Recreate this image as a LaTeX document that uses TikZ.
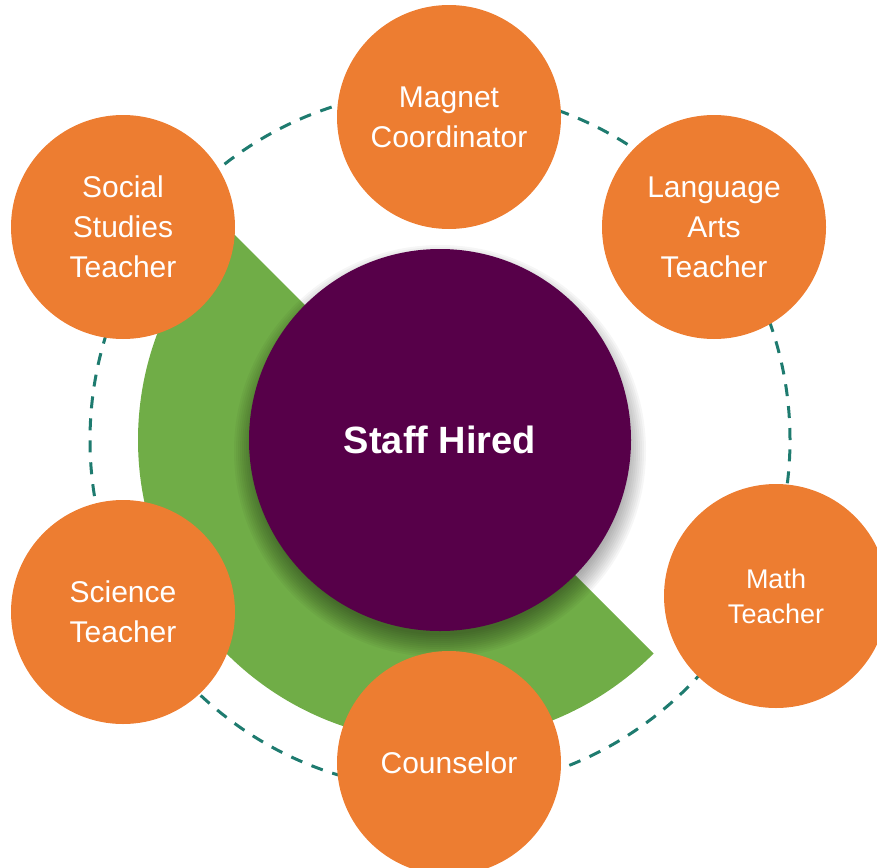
\documentclass[tikz,border=0pt]{standalone}
\usepackage{fontspec}
\setmainfont{Liberation Sans}
\definecolor{ringteal}{HTML}{1E7B6F}
\definecolor{bubbleorange}{HTML}{ED7D31}
\definecolor{hubpurple}{HTML}{570049}
\definecolor{sectorgreen}{HTML}{70AD47}

\begin{document}
\begin{tikzpicture}[x=0.5pt,y=0.5pt,
	bubble/.style={circle,fill=bubbleorange,text=white,minimum size=112pt,inner sep=0pt,align=center,font=\fontsize{15}{20}\selectfont},
	hubdisc/.style={circle,fill=hubpurple,text=white,minimum size=191pt,inner sep=0pt,font=\bfseries\fontsize{19}{22}\selectfont},
	ring/.style={draw=ringteal,line width=1.5pt,dash pattern=on 6pt off 5pt}]
	\useasboundingbox (0,0) rectangle (877,-867);
	
	\coordinate (C)   at (440,-440);
	\coordinate (Cs)  at (440,-451);
	\coordinate (Mag) at (449,-117);
	\coordinate (Soc) at (123,-227);
	\coordinate (Lan) at (714,-227);
	\coordinate (Sci) at (123,-612);
	\coordinate (Cou) at (449,-763);
	\coordinate (Mat) at (776,-596);
	
	\draw[ring] (C) circle[radius=175pt];
	\fill[sectorgreen] (C) -- ++(135:151pt) arc[start angle=135,end angle=315,radius=151pt] -- cycle;
	
	\foreach \r in {0,...,11}
		\fill[black,opacity=0.035] (Cs) circle[radius=92pt+\r pt];
	\node[hubdisc] (hub) at (C) {Staff Hired};
	
	\node[bubble] (magnet)    at (Mag) {Magnet\\Coordinator};
	\node[bubble] (social)    at (Soc) {Social\\Studies\\Teacher};
	\node[bubble] (langarts)  at (Lan) {Language\\Arts\\Teacher};
	\node[bubble] (science)   at (Sci) {Science\\Teacher};
	\node[bubble] (counselor) at (Cou) {Counselor};
	\node[bubble,font=\fontsize{13.5}{17.5}\selectfont] (math) at (Mat) {Math\\Teacher};
\end{tikzpicture}
\end{document}
